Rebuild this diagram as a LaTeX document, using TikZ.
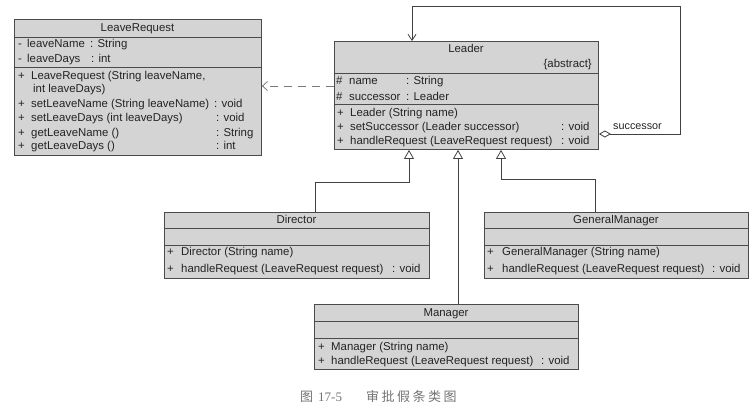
\documentclass[tikz,border=0pt]{standalone}
\usepackage{fontspec}
\setmainfont{Liberation Sans}
\newfontfamily\cjk{Noto Sans CJK SC}
\newfontfamily\capserif{Liberation Serif}
\usetikzlibrary{arrows.meta}
\definecolor{boxfill}{RGB}{212,212,212}
\definecolor{boxline}{RGB}{75,75,75}
\definecolor{txtcol}{RGB}{35,35,35}
\definecolor{capcol}{RGB}{115,115,115}
\definecolor{lncol}{RGB}{65,65,65}
\tikzset{
  classbox/.style={draw=boxline, fill=boxfill, line width=0.9pt, anchor=north west, inner sep=0pt},
  sepline/.style={draw=boxline, line width=0.9pt},
  txt/.style={anchor=base west, inner sep=0pt, text=txtcol, font=\fontsize{11.4}{13}\selectfont},
  txtc/.style={txt, anchor=base},
  txte/.style={txt, anchor=base east},
  gen/.style={draw=lncol, line width=0.8pt, -{Triangle[open, length=9pt, width=10pt, fill=white]}},
  depd/.style={draw=lncol!70, line width=0.8pt, dash pattern=on 8pt off 6pt, -{Straight Barb[length=5pt, width=9pt]}},
  assoc/.style={draw=lncol, line width=0.8pt, {Diamond[open, length=12pt, width=7pt, fill=white]}-{Straight Barb[length=6pt, width=8pt]}},
  lbl/.style={anchor=base west, inner sep=0pt, text=txtcol, font=\fontsize{10.8}{12}\selectfont},
  captxt/.style={anchor=west, inner sep=0pt, text=capcol, font=\fontsize{13}{14}\selectfont},
}
\begin{document}
\begin{tikzpicture}[x=1pt,y=-1pt]
\useasboundingbox (0,0) rectangle (755,419);
% ---------- LeaveRequest ----------
\node[classbox, minimum width=247pt, minimum height=136pt] (lr) at (14,19) {};
\draw[sepline] (14,37) -- (261,37);
\draw[sepline] (14,67) -- (261,67);
\node[txtc] (lrt) at (137.5,32) {LeaveRequest};
\node[txt] (lra1) at (18,48) {-}; \node[txt] (lra1n) at (27,48) {leaveName}; \node[txt] (lra1t) at (90,48) {: String};
\node[txt] (lra2) at (18,63) {-}; \node[txt] (lra2n) at (27,63) {leaveDays}; \node[txt] (lra2t) at (91,63) {: int};
\node[txt] (lrm1) at (18,80) {+}; \node[txt] (lrm1n) at (31,80) {LeaveRequest (String leaveName,};
\node[txt] (lrm1b) at (33,93) {int leaveDays)};
\node[txt] (lrm2) at (18,108) {+}; \node[txt] (lrm2n) at (31,108) {setLeaveName (String leaveName)}; \node[txt] (lrm2t) at (214,108) {: void};
\node[txt] (lrm3) at (18,122) {+}; \node[txt] (lrm3n) at (31,122) {setLeaveDays (int leaveDays)}; \node[txt] (lrm3t) at (216,122) {: void};
\node[txt] (lrm4) at (18,137) {+}; \node[txt] (lrm4n) at (31,137) {getLeaveName ()}; \node[txt] (lrm4t) at (216,137) {: String};
\node[txt] (lrm5) at (18,150) {+}; \node[txt] (lrm5n) at (31,150) {getLeaveDays ()}; \node[txt] (lrm5t) at (216,150) {: int};
% ---------- Leader ----------
\node[classbox, minimum width=264pt, minimum height=108pt] (leader) at (334,41) {};
\draw[sepline] (334,73) -- (598,73);
\draw[sepline] (334,104) -- (598,104);
\node[txtc] (ldt) at (466,53) {Leader};
\node[txte] (ldabs) at (592,68) {\{abstract\}};
\node[txt] (lda1) at (336,85) {\#}; \node[txt] (lda1n) at (349,85) {name}; \node[txt] (lda1t) at (406,85) {: String};
\node[txt] (lda2) at (336,101) {\#}; \node[txt] (lda2n) at (349,101) {successor}; \node[txt] (lda2t) at (406,101) {: Leader};
\node[txt] (ldm1) at (337,117) {+}; \node[txt] (ldm1n) at (350,117) {Leader (String name)};
\node[txt] (ldm2) at (337,131) {+}; \node[txt] (ldm2n) at (350,131) {setSuccessor (Leader successor)}; \node[txt] (ldm2t) at (561,131) {: void};
\node[txt] (ldm3) at (337,145) {+}; \node[txt] (ldm3n) at (350,145) {handleRequest (LeaveRequest request)}; \node[txt] (ldm3t) at (561,145) {: void};
% ---------- Director ----------
\node[classbox, minimum width=265pt, minimum height=66pt] (dir) at (164,212) {};
\draw[sepline] (164,228) -- (429,228);
\draw[sepline] (164,245) -- (429,245);
\node[txtc] (dirt) at (296.5,224) {Director};
\node[txt] (dirm1) at (167,256) {+}; \node[txt] (dirm1n) at (181,256) {Director (String name)};
\node[txt] (dirm2) at (167,273) {+}; \node[txt] (dirm2n) at (181,273) {handleRequest (LeaveRequest request)}; \node[txt] (dirm2t) at (392,273) {: void};
% ---------- GeneralManager ----------
\node[classbox, minimum width=264pt, minimum height=66pt] (gm) at (484,212) {};
\draw[sepline] (484,228) -- (748,228);
\draw[sepline] (484,245) -- (748,245);
\node[txtc] (gmt) at (616,224) {GeneralManager};
\node[txt] (gmm1) at (487,256) {+}; \node[txt] (gmm1n) at (502,256) {GeneralManager (String name)};
\node[txt] (gmm2) at (487,273) {+}; \node[txt] (gmm2n) at (502,273) {handleRequest (LeaveRequest request)}; \node[txt] (gmm2t) at (712,273) {: void};
% ---------- Manager ----------
\node[classbox, minimum width=264pt, minimum height=65pt] (mgr) at (314,304) {};
\draw[sepline] (314,321) -- (578,321);
\draw[sepline] (314,338) -- (578,338);
\node[txtc] (mgrt) at (446,317) {Manager};
\node[txt] (mgrm1) at (318,351) {+}; \node[txt] (mgrm1n) at (331,351) {Manager (String name)};
\node[txt] (mgrm2) at (318,365) {+}; \node[txt] (mgrm2n) at (331,365) {handleRequest (LeaveRequest request)}; \node[txt] (mgrm2t) at (541,365) {: void};
% ---------- connectors ----------
\coordinate (depy) at (0,86);
\draw[depd] (leader.west |- depy) -- (lr.east |- depy);
\coordinate (a1) at (680,134);
\coordinate (a2) at (680,6);
\coordinate (a3) at (412,6);
\draw[assoc] (leader.east |- a1) -- (a1) -- (a2) -- (a3) -- (leader.north -| a3);
\node[lbl] (succ) at (613,130) {successor};
\coordinate (g1) at (315,182);
\coordinate (g2) at (409,182);
\draw[gen] (dir.north -| g1) -- (g1) -- (g2) -- (leader.south -| g2);
\coordinate (g3) at (458,182);
\draw[gen] (mgr.north -| g3) -- (leader.south -| g3);
\coordinate (g4) at (595,179);
\coordinate (g5) at (501,179);
\draw[gen] (gm.north -| g4) -- (g4) -- (g5) -- (leader.south -| g5);
% ---------- caption ----------
\node[captxt] (cap1) at (300,397) {\cjk 图\hspace{5pt}\capserif 17-5};
\node[captxt] (cap2) at (366,397) {\cjk 审\hspace{2.5pt}批\hspace{2.5pt}假\hspace{2.5pt}条\hspace{2.5pt}类\hspace{2.5pt}图};
\end{tikzpicture}
\end{document}
